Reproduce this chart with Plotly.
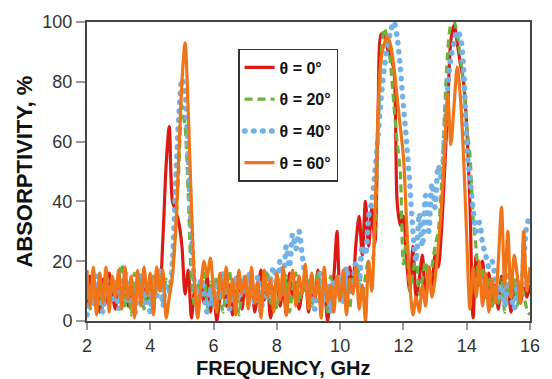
import plotly.graph_objects as go

# Frequency grid (GHz), step 0.1 from 2.0 to 16.0
freq = [round(2.0 + 0.1 * i, 1) for i in range(141)]

theta0 = [
    5, 15, 8, 12, 3, 14, 6, 16, 9, 4,
    13, 7, 15, 5, 11, 2, 14, 8, 17, 6,
    12, 3, 15, 13, 28, 52, 65, 40, 37, 33,
    25, 9, 17, 1, 10, 4, 13, 6, 15, 3,
    11, 0, 8, 14, 5, 12, 2, 9, 16, 4,
    13, 6, 15, 3, 10, 17, 7, 12, 1, 9,
    14, 5, 11, 2, 16, 8, 13, 4, 10, 15,
    3, 12, 7, 17, 5, 13, 0, 9, 15, 30,
    8, 14, 6, 18, 12, 26, 35, 22, 40, 25,
    38, 26, 70, 96, 95, 91, 88, 84, 40, 32,
    35, 20, 10, 25, 8, 14, 22, 6, 18, 12,
    22, 18, 30, 50, 72, 94, 99, 93, 86, 80,
    65, 40, 1, 22, 12, 20, 8, 16, 5, 12,
    4, 15, 7, 12, 3, 10, 14, 6, 11, 8,
    12,
]

theta20 = [
    10, 4, 14, 7, 16, 3, 11, 6, 13, 8,
    15, 19, 5, 12, 2, 16, 9, 14, 4, 12,
    7, 15, 10, 17, 6, 14, 9, 18, 30, 50,
    72, 65, 42, 14, 5, 12, 8, 16, 4, 13,
    6, 15, 9, 3, 12, 17, 7, 14, 2, 10,
    16, 5, 11, 8, 14, 3, 12, 17, 6, 10,
    4, 13, 8, 15, 3, 11, 16, 6, 12, 9,
    14, 5, 10, 17, 7, 12, 3, 15, 8, 13,
    6, 16, 9, 4, 14, 11, 18, 8, 15, 20,
    20, 30, 62, 90, 98, 94, 85, 72, 60, 50,
    19, 28, 10, 16, 22, 9, 14, 20, 12, 18,
    25, 30, 45, 70, 90, 99, 100, 96, 88, 80,
    65, 56, 35, 24, 12, 18, 8, 15, 5, 12,
    6, 14, 3, 11, 8, 15, 5, 12, 9, 4,
    2,
]

theta40 = [
    2, 12, 5, 15, 8, 3, 14, 10, 6, 13,
    4, 11, 16, 7, 13, 2, 9, 15, 6, 12,
    3, 14, 8, 17, 5, 12, 10, 20, 45, 68,
    81, 76, 55, 30, 12, 6, 14, 9, 3, 11,
    5, 13, 8, 16, 10, 4, 12, 15, 7, 14,
    9, 16, 12, 6, 15, 3, 11, 8, 14, 18,
    12, 20, 15, 25, 18, 29, 24, 30, 22, 14,
    8, 13, 4, 11, 16, 7, 12, 3, 14, 9,
    15, 6, 18, 10, 13, 20, 12, 25, 22, 35,
    40, 50, 62, 75, 85, 92, 97, 100, 95, 85,
    72, 60, 46, 30, 20, 36, 25, 42, 30, 46,
    38, 52, 48, 62, 78, 88, 93, 97, 95, 85,
    58, 48, 38, 30, 33, 26, 22, 18, 20, 14,
    8, 12, 5, 15, 9, 4, 13, 8, 20, 32,
    35,
]

theta60 = [
    17, 5, 18, 2, 16, 6, 18, 3, 15, 8,
    17, 4, 18, 7, 15, 1, 17, 5, 18, 9,
    16, 2, 18, 10, 17, 1, 8, 15, 30, 55,
    80, 93, 70, 38, 13, 1, 12, 20, 15, 21,
    10, 3, 16, 8, 18, 5, 14, 2, 17, 9,
    15, 4, 18, 6, 13, 1, 17, 8, 14, 3,
    16, 7, 18, 2, 12, 17, 5, 15, 9, 19,
    4, 16, 8, 14, 1, 18, 6, 12, 3, 15,
    7, 17, 2, 14, 9, 18, 4, 12, 0, 20,
    10, 35, 70, 88, 93, 95, 92, 85, 75, 65,
    55, 33, 13, 2, 8, 3, 12, 5, 18, 8,
    14, 25, 38, 57, 76, 59, 72, 85, 75, 55,
    28, 4, 18, 8, 20, 5, 16, 3, 14, 6,
    20, 38, 12, 30, 8, 22, 15, 6, 30, 10,
    18,
]

series = [
    ("θ = 0°", theta0, "#dc1a14", "solid", 3.2),
    ("θ = 20°", theta20, "#6cb23c", "8px,5px", 3.2),
    ("θ = 40°", theta40, "#72b2e6", "0.5px,8.5px", 5.5),
    ("θ = 60°", theta60, "#f07418", "solid", 3.2),
]

fig = go.Figure()
for i, (name, vals, color, dash, w) in enumerate(series):
    fig.add_trace(go.Scatter(
        x=freq, y=vals, name=name, mode="lines",
        legendgroup=f"g{i}",
        line=dict(color=color, width=w, dash=dash, shape="spline", smoothing=0.8),
    ))

fig.update_layout(
    width=552, height=379,
    margin=dict(l=87, r=22, t=20, b=58),
    paper_bgcolor="white", plot_bgcolor="white",
    font=dict(family="Liberation Sans, Arial, sans-serif", color="#333"),
    showlegend=True,
    legend=dict(
        x=0.341, y=0.91, xanchor="left", yanchor="top",
        bgcolor="white", bordercolor="#333", borderwidth=1.5,
        font=dict(size=16, color="#111", family="Liberation Sans, Arial, sans-serif", weight="bold"),
        tracegroupgap=8,
        itemwidth=30,
    ),
    xaxis=dict(
        range=[2, 16], tickvals=[2, 4, 6, 8, 10, 12, 14, 16],
        showgrid=False, zeroline=False,
        showline=True, linecolor="#444", linewidth=2, mirror=True,
        ticks="outside", ticklen=7, tickcolor="#999", tickwidth=1.5,
        tickfont=dict(size=18, color="#333"),
    ),
    yaxis=dict(
        range=[0, 100], tickvals=[0, 20, 40, 60, 80, 100],
        showgrid=False, zeroline=False,
        showline=True, linecolor="#444", linewidth=2, mirror=True,
        ticks="outside", ticklen=9, tickcolor="#999", tickwidth=1.5,
        tickfont=dict(size=18, color="#333"),
    ),
    annotations=[
        dict(text="<b>FREQUENCY, GHz</b>", xref="paper", yref="paper",
             x=0.442, y=-0.157, xanchor="center", yanchor="middle", showarrow=False,
             font=dict(size=20, color="#111")),
        dict(text="<b>ABSORPTIVITY, %</b>", xref="paper", yref="paper",
             x=-0.142, y=0.5, xanchor="center", yanchor="middle", showarrow=False,
             textangle=-90, font=dict(size=22, color="#111")),
    ],
)

post = """
document.body.style.margin='0';
document.body.style.overflow='hidden';
document.querySelectorAll('path').forEach(function(p){
  var s = p.style.stroke || '';
  if (s.indexOf('114, 178, 230') >= 0) { p.style.strokeLinecap = 'round'; }
});
"""

fig.write_html("out.html", config={"displayModeBar": False}, post_script=post)
